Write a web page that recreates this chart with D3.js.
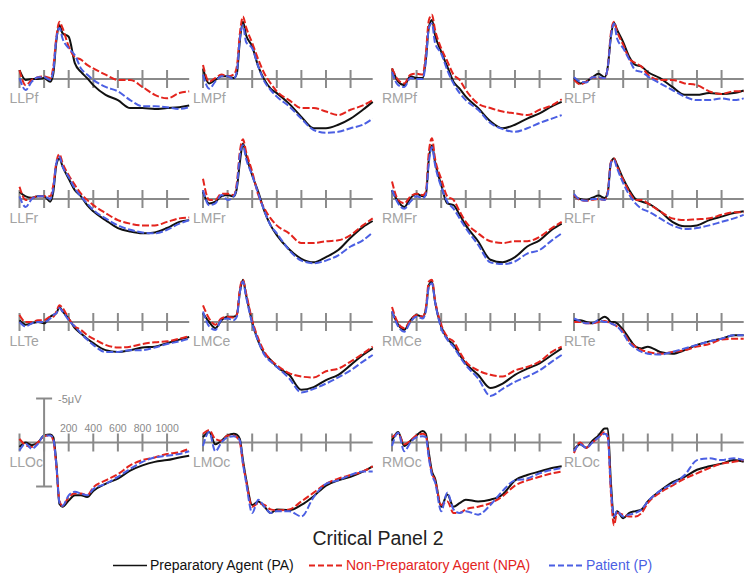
<!DOCTYPE html>
<html>
<head>
<meta charset="utf-8">
<script src="https://cdn.jsdelivr.net/npm/d3@7"></script>
<style>
  body { margin: 0; background: #fff; }
  text { font-family: "Liberation Sans", Arial, Helvetica, sans-serif; }
</style>
</head>
<body>
<div id="my_dataviz"></div>
<script>
// sample times (ms) shared by every waveform
var times = [-200,-150,-100,-50,0,50,75,100,125,150,200,250,300,350,400,500,600,700,800,900,1000,1100,1180];

// electrode sites, row by row
var sites = ["LLPf","LMPf","RMPf","RLPf",
             "LLFr","LMFr","RMFr","RLFr",
             "LLTe","LMCe","RMCe","RLTe",
             "LLOc","LMOc","RMOc","RLOc"];

var axisTicks = [-200, 0, 200, 400, 600, 800, 1000];
var tickLabels = [200, 400, 600, 800, 1000];

// amplitudes in microvolts (negative plotted up), one row per site
var paValues = [
  [-1.0,0.1,0,0,-0.1,0.3,-0.6,-4.4,-6.1,-5.2,-4.8,-1.8,-0.8,-0.1,0.7,1.8,2.4,3.3,3.3,3.4,3.3,3.2,3.0],
  [-1.2,0.5,0.1,-0.3,-0.3,-0.1,-0.6,-4.4,-6.5,-5.0,-3.7,-1.4,0.1,1.1,1.6,2.8,4.3,5.6,5.6,5.2,4.5,3.5,2.6],
  [-1.2,0.3,0.7,-0.3,-0.1,-0.1,-2.2,-5.9,-6.7,-5.0,-3.1,-1.4,0.3,1.1,2.0,3.3,4.8,5.6,5.2,4.5,3.9,3.1,2.6],
  [-0.1,0.5,0.3,-0.2,-0.6,-0.2,-1.4,-4.8,-6.4,-5.6,-4.2,-2.5,-1.6,-1.4,-0.8,-0.1,0.9,1.8,1.8,1.6,1.7,1.6,1.3],
  [-0.8,-0.3,-0.15,-0.3,-0.3,0.3,-0.8,-3.9,-4.6,-3.7,-2.3,-1.0,-0.3,0.7,1.4,2.4,3.3,3.7,3.9,3.8,3.3,2.6,2.4],
  [-0.8,0.5,0.3,-0.3,-0.45,-0.3,-1.2,-4.2,-6.3,-5.0,-2.7,-0.8,1.4,3.0,4.1,5.7,6.8,7.2,6.6,5.8,4.4,3.2,2.5],
  [-1.0,0.3,0.9,-0.1,-0.6,-0.3,-0.45,-4.6,-6.1,-4.2,-1.6,0.5,0.7,1.8,3.0,4.8,6.9,7.2,6.6,5.4,4.7,3.5,2.8],
  [-0.3,0,0.1,-0.15,-0.4,-0.1,-0.8,-4.1,-4.6,-3.9,-2.3,-1.0,0,0.3,0.5,1.4,2.6,3.1,3.0,2.4,2.0,1.6,1.4],
  [-0.2,0.3,0.15,0,0.15,-0.6,-0.8,-1.0,-1.7,-1.2,-0.4,0.7,1.3,1.9,2.4,3.2,3.4,3.2,2.9,2.8,2.4,2.0,1.7],
  [-1.0,0,0.7,-0.2,-0.6,-0.6,-0.8,-3.4,-4.8,-3.1,0,2.2,3.6,4.3,5.1,6.0,7.7,7.4,6.6,6.0,4.9,3.75,3.0],
  [-1.2,0.3,0.9,-0.2,-0.8,-0.6,-1.4,-4.2,-4.6,-2.3,0.5,1.9,2.6,3.75,4.7,6.0,7.5,7.0,6.0,5.3,4.7,3.75,3.0],
  [-0.2,-0.2,0,0.15,-0.2,-0.6,-0.4,0,0,0.15,0.9,1.9,2.8,3.0,2.8,3.4,3.6,3.2,2.6,2.2,1.9,1.5,1.5],
  [0.5,0,0.3,0,-0.8,-0.9,-0.6,2.4,7.0,7.3,6.6,6.0,6.0,6.2,5.5,4.7,4.1,3.2,2.6,2.2,2.0,1.7,1.5],
  [-0.6,-1.2,0.2,-0.2,-0.8,-1.0,-0.9,-0.4,2.0,4.1,7.1,6.7,7.3,8.0,7.6,7.7,7.1,6.1,4.9,4.3,3.9,3.3,2.7],
  [-0.2,-1.2,0.4,-0.2,-0.8,-1.3,-1.0,1.2,3.3,4.1,7.3,5.9,7.3,6.9,6.5,6.7,6.5,5.9,4.3,3.7,3.3,2.9,2.7],
  [0.8,0.2,0.6,-0.2,-0.8,-1.6,-1.6,4.5,8.6,7.8,8.6,8.0,7.8,7.6,6.7,5.5,4.5,3.9,3.1,2.7,2.4,2.0,2.2]
];

var npaValues = [
  [-1.0,0.7,0.1,-0.2,-0.3,-0.1,-1.4,-4.8,-6.5,-5.8,-3.7,-2.5,-2.2,-1.6,-1.2,-0.5,0.1,0.1,0.9,1.8,2.2,1.6,1.4],
  [-1.6,0.3,-0.1,-0.5,-0.3,-0.5,-1.4,-5.2,-7.1,-5.9,-4.1,-2.2,-0.6,0.5,1.4,2.4,3.3,3.3,3.7,4.1,3.5,3.0,2.4],
  [-1.2,0.1,0.5,-0.5,-0.6,-0.5,-2.9,-6.7,-7.3,-5.6,-3.5,-2.0,-0.5,0.1,1.25,2.8,3.3,3.7,3.9,4.1,3.5,3.0,2.3],
  [0.1,0.6,0.3,-0.2,-0.1,-0.1,-1.4,-5.2,-6.5,-5.4,-3.9,-2.3,-1.8,-1.4,-0.5,0.1,0.1,0.5,0.7,1.4,1.7,1.4,1.4],
  [-1.4,0.1,-0.1,-0.3,-0.3,-0.3,-1.6,-4.2,-5.1,-4.1,-2.7,-1.6,-0.6,0.1,0.7,1.6,2.4,2.8,3.0,3.0,2.6,2.2,2.1],
  [-2.3,0.1,0.1,-0.6,-0.6,-0.45,-1.8,-5.4,-6.8,-5.4,-3.1,-0.45,1.1,2.2,3.0,3.9,5.0,5.0,4.8,4.7,4.1,3.0,2.2],
  [-2.0,0.1,0.5,-0.3,-0.6,-0.45,-0.8,-5.4,-6.9,-4.6,-2.3,-0.3,0.1,1.4,2.6,3.9,4.8,5.0,4.8,4.8,4.3,3.3,2.6],
  [-0.45,0.1,0.2,0.1,0,0.1,-0.8,-4.2,-4.6,-3.7,-2.2,-0.8,0.1,0.1,0.5,1.4,2.2,2.4,2.3,2.2,1.8,1.5,1.5],
  [-0.8,0,0,-0.2,-0.2,-0.6,-0.6,-1.2,-1.9,-1.6,-0.4,0.5,0.9,1.5,1.9,2.6,2.9,2.8,2.5,2.3,2.2,1.9,1.6],
  [-1.9,-0.4,0.3,-0.4,-0.6,-0.5,-0.8,-3.8,-4.8,-3.3,-0.2,1.9,3.4,4.3,4.9,5.8,6.2,6.3,5.6,5.3,4.5,3.6,2.8],
  [-1.7,0.15,0.7,-0.2,-0.8,-0.6,-1.6,-4.6,-4.8,-2.5,0.3,1.7,2.2,3.4,4.5,5.5,6.0,6.2,5.5,5.1,4.5,3.4,2.8],
  [0,0,0.15,0.15,0,-0.1,0,0.15,0.3,0.5,1.1,2.2,2.8,3.2,3.4,3.6,3.4,3.2,2.8,2.5,2.0,1.9,1.9],
  [-0.4,0.3,0.5,0,-0.7,-0.8,-0.2,2.8,6.6,7.2,6.2,5.8,5.8,6.0,5.1,4.3,3.6,2.6,2.0,1.7,1.3,1.1,0.7],
  [-1.0,-1.4,-0.4,-0.2,-0.8,-0.8,-0.6,0,2.4,4.3,7.3,6.9,7.1,7.6,7.7,7.6,6.7,5.7,4.7,4.1,3.7,3.3,2.7],
  [-0.6,-1.0,0.2,-0.2,-0.8,-1.0,-0.8,1.6,3.5,4.3,7.1,6.7,8.0,8.0,7.6,7.3,6.9,6.1,4.9,4.3,3.9,3.5,3.3],
  [1.2,0,0.6,0,-0.6,-1.2,-0.6,5.7,9.4,8.0,8.2,8.4,8.4,8.0,6.9,5.7,4.9,4.1,3.5,2.9,2.4,2.2,2.0]
];

var pValues = [
  [-0.1,1.25,0.3,-0.2,-0.2,0.1,-1.0,-4.6,-5.8,-4.6,-3.5,-2.7,-1.2,-0.5,0.1,0.9,1.4,2.4,3.1,3.1,3.2,3.4,3.2],
  [-0.5,1.1,0.3,-0.3,-0.3,0,-0.8,-4.6,-6.1,-4.2,-3.5,-1.4,0.3,1.25,2.0,3.1,4.5,5.8,6.1,6.0,5.6,5.2,4.5],
  [-0.8,0.7,0.9,-0.1,0,0,-2.0,-5.8,-6.3,-4.1,-2.9,-1.0,0.5,1.6,2.4,3.5,5.0,5.7,6.0,5.6,5.0,4.5,4.1],
  [-0.2,0.3,0.4,-0.2,-0.2,-0.1,-1.4,-4.8,-6.3,-4.6,-3.5,-2.2,-1.0,-0.8,-0.3,0.5,1.25,2.0,2.4,2.4,2.2,2.4,2.2],
  [-0.3,0.9,0,-0.3,-0.3,0,-1.2,-4.1,-4.8,-3.7,-2.5,-1.2,-0.3,0.5,1.25,2.2,3.0,3.5,3.8,3.9,3.5,2.8,2.4],
  [-1.0,0.7,0.5,-0.45,0.1,-0.3,-1.4,-5.0,-6.1,-4.6,-2.7,-0.6,1.4,3.0,3.9,5.8,7.0,7.3,7.0,6.4,5.4,4.7,3.8],
  [-1.0,0.5,1.1,0.3,-0.3,-0.1,-0.45,-4.2,-5.9,-3.9,-1.4,0.3,1.1,2.2,3.3,5.2,7.2,7.4,7.1,6.2,5.8,4.7,3.9],
  [-0.6,0.1,0.2,0,0,0.1,-0.6,-4.1,-4.4,-3.5,-1.8,-0.45,0.5,1.1,1.4,2.2,3.0,3.4,3.3,3.0,2.6,2.2,1.8],
  [0,0.5,0.15,0,0,-0.4,-0.8,-1.0,-1.6,-1.2,-0.2,0.5,1.3,2.0,2.6,3.4,3.4,3.2,3.2,2.9,2.5,2.2,1.9],
  [-1.2,0.5,0.9,-0.2,-0.4,-0.2,-0.6,-3.4,-4.6,-2.9,0.15,2.2,3.75,4.5,5.1,6.4,8.0,7.6,7.0,6.3,5.5,4.5,3.75],
  [-1.2,0.5,1.1,0,-0.6,-0.4,-1.2,-4.0,-4.4,-2.3,0.7,2.0,2.8,3.9,4.9,6.4,8.4,7.6,6.8,6.2,5.5,4.5,3.75],
  [-0.4,-0.1,0.15,0.15,-0.2,0,0,0.15,0.3,0.5,1.3,2.4,3.0,3.4,3.6,3.7,3.4,3.0,2.6,2.2,1.9,1.5,1.5],
  [0.9,0.15,0.7,0.15,-0.8,-0.8,-0.4,2.6,6.8,7.2,6.0,5.6,5.8,6.0,5.3,4.7,3.9,3.0,2.2,1.7,1.5,1.3,1.0],
  [0.4,-1.2,1.0,0,-0.6,-0.7,-0.6,-0.2,2.4,4.5,8.0,6.5,7.3,8.0,7.8,7.8,8.4,6.2,4.7,4.3,3.7,3.3,3.3],
  [0.4,-1.1,1.0,0,-0.6,-0.7,-0.6,1.8,3.7,4.5,7.8,5.7,7.6,8.0,7.8,8.2,7.1,5.5,4.3,4.1,3.5,3.1,2.9],
  [1.0,0.2,0.6,0,-0.6,-1.0,-0.6,5.3,8.4,7.8,8.4,8.2,8.0,7.6,6.7,5.5,4.7,3.7,2.0,1.8,2.0,1.8,2.0]
];

var conditions = [
  {name: "Preparatory Agent (PA)", values: paValues, color: "#111111", dash: null},
  {name: "Non-Preparatory Agent (NPA)", values: npaValues, color: "#e3241d", dash: "7,2.5"},
  {name: "Patient (P)", values: pValues, color: "#4b5fe3", dash: "7,2.5"}
];

var svgWidth = 754, svgHeight = 582;

// panel placement: left edge of each column's time axis, zero line of each row
var colLeft = [19.5, 203, 392, 574];
var rowBase = [79, 199, 322, 442.5];
var axisLen = 169.7;     // -200 .. 1180 ms
var halfRange = 44;      // pixels for 5 microvolts

var axisColor = "#8a8a8a";

var svg = d3.select("#my_dataviz")
  .append("svg")
    .attr("width", svgWidth)
    .attr("height", svgHeight);

sites.forEach(function(site, i) {
  var col = i % 4, row = Math.floor(i / 4);

  var x = d3.scaleLinear()
    .domain([-200, 1180])
    .range([colLeft[col], colLeft[col] + axisLen]);

  var y = d3.scaleLinear()
    .domain([-5, 5])
    .range([rowBase[row] - halfRange, rowBase[row] + halfRange]);

  var g = svg.append("g").attr("class", "panel");

  // time axis with ticks crossing it
  g.append("line")
    .attr("x1", x(-200)).attr("x2", x(1180))
    .attr("y1", y(0)).attr("y2", y(0))
    .attr("stroke", axisColor).attr("stroke-width", 2);

  g.selectAll("tick")
    .data(axisTicks)
    .enter()
    .append("line")
    .attr("x1", function(d) { return x(d); })
    .attr("x2", function(d) { return x(d); })
    .attr("y1", y(0) - 9)
    .attr("y2", y(0) + 9)
    .attr("stroke", axisColor).attr("stroke-width", 2);

  // site label
  g.append("text")
    .attr("x", x(-200) - 10)
    .attr("y", y(0) + 24)
    .text(site)
    .style("font-size", "14px")
    .style("fill", "#a3a3a3");

  // the three waveforms
  conditions.forEach(function(c) {
    var line = d3.line()
      .x(function(d, k) { return x(times[k]); })
      .y(function(d) { return y(d); })
      .curve(d3.curveMonotoneX);

    g.append("path")
      .datum(c.values[i])
      .attr("d", line)
      .attr("fill", "none")
      .attr("stroke", c.color)
      .attr("stroke-width", 2)
      .attr("stroke-dasharray", c.dash);
  });

  // scale bar only on the first occipital panel
  if (site === "LLOc") {
    g.append("line")
      .attr("x1", x(0)).attr("x2", x(0))
      .attr("y1", y(-5)).attr("y2", y(5))
      .attr("stroke", axisColor).attr("stroke-width", 2);
    [-5, 5].forEach(function(v) {
      g.append("line")
        .attr("x1", x(0) - 8).attr("x2", x(0) + 8)
        .attr("y1", y(v)).attr("y2", y(v))
        .attr("stroke", axisColor).attr("stroke-width", 2);
    });
    g.append("text")
      .attr("x", x(0) + 14)
      .attr("y", y(-5) + 4)
      .text("-5\u03BCV")
      .style("font-size", "11px")
      .style("fill", "#8a8a8a");
    g.selectAll("ticklabel")
      .data(tickLabels)
      .enter()
      .append("text")
      .attr("x", function(d) { return x(d); })
      .attr("y", y(0) - 11)
      .attr("text-anchor", "middle")
      .text(function(d) { return d; })
      .style("font-size", "10.5px")
      .style("fill", "#8a8a8a");
  }
});

// title
svg.append("text")
  .attr("x", 378)
  .attr("y", 545)
  .attr("text-anchor", "middle")
  .text("Critical Panel 2")
  .style("font-size", "19.5px")
  .style("fill", "#222");

// legend
var legendPos = [113, 309, 549];
conditions.forEach(function(c, k) {
  var lx = legendPos[k];
  svg.append("line")
    .attr("x1", lx).attr("x2", lx + 34)
    .attr("y1", 565.5).attr("y2", 565.5)
    .attr("stroke", c.color)
    .attr("stroke-width", k === 0 ? 1.5 : 2)
    .attr("stroke-dasharray", c.dash ? "6,3" : null);
  svg.append("text")
    .attr("x", lx + 37)
    .attr("y", 570)
    .text(c.name)
    .style("font-size", "14px")
    .style("fill", k === 0 ? "#111" : c.color);
});
</script>
</body>
</html>
